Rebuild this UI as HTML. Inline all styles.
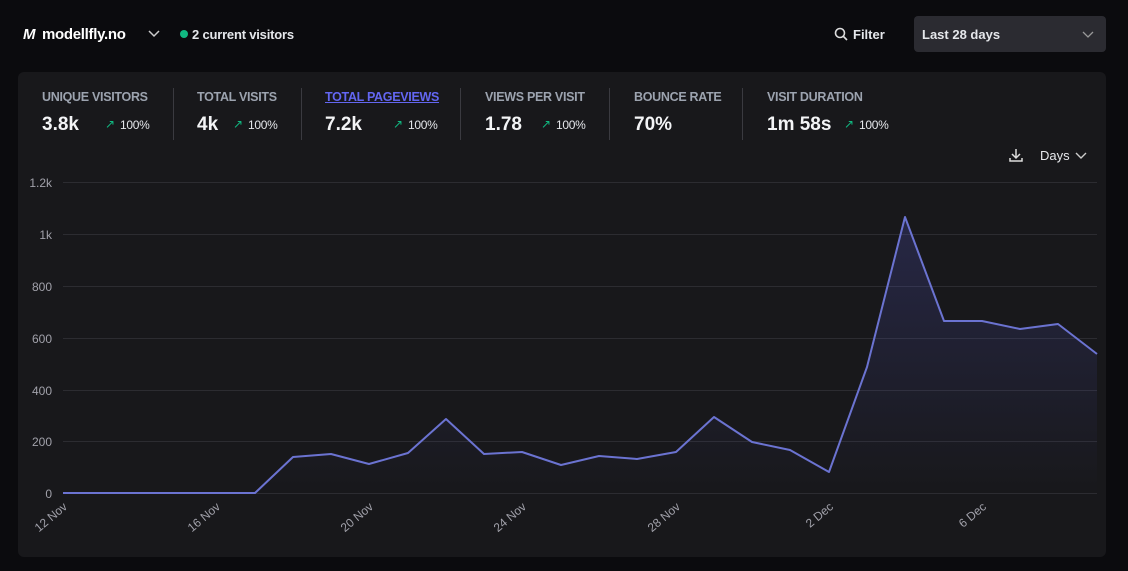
<!DOCTYPE html>
<html><head><meta charset="utf-8"><style>
body{margin:0;width:1128px;height:571px;background:#0b0b0e;font-family:"Liberation Sans",sans-serif;overflow:hidden;position:relative;color:#fff}
.a{position:absolute;white-space:nowrap}
.lab{font-size:12.5px;font-weight:bold;color:#9ca3af;letter-spacing:-0.3px}
.val{font-size:19px;font-weight:bold;color:#f3f4f6}
.pct{font-size:12px;color:#e5e7eb;letter-spacing:-0.3px}
.up{color:#10b981;font-size:12px}
.sep{position:absolute;top:88px;width:1px;height:52px;background:#3a3a40}
</style></head><body>
<div class="a" style="left:23px;top:26px;font-size:15px;font-weight:bold;font-style:italic">M</div>
<div class="a" style="left:42px;top:26px;font-size:15px;font-weight:bold;letter-spacing:-0.3px">modellfly.no</div>
<svg class="a" style="left:148px;top:30px" width="12" height="8"><path d="M1 1l5 5 5-5" stroke="#ccc" stroke-width="1.5" fill="none"/></svg>
<div class="a" style="left:180px;top:30px;width:8px;height:8px;border-radius:50%;background:#10b981"></div>
<div class="a" style="left:192px;top:27px;font-size:13px;font-weight:bold;color:#e5e7eb;letter-spacing:-0.2px">2 current visitors</div>
<svg class="a" style="left:834px;top:27px" width="14" height="14"><circle cx="6" cy="6" r="4.5" stroke="#ddd" stroke-width="1.6" fill="none"/><line x1="9.5" y1="9.5" x2="13" y2="13" stroke="#ddd" stroke-width="1.6"/></svg>
<div class="a" style="left:853px;top:27px;font-size:13px;font-weight:bold;color:#e5e7eb">Filter</div>
<div class="a" style="left:914px;top:16px;width:192px;height:36px;background:#2b2b31;border-radius:4px"></div>
<div class="a" style="left:922px;top:27px;font-size:13px;font-weight:bold;color:#e5e7eb">Last 28 days</div>
<svg class="a" style="left:1082px;top:31px" width="12" height="8"><path d="M1 1l5 5 5-5" stroke="#999" stroke-width="1.3" fill="none"/></svg>
<div class="a" style="left:18px;top:72px;width:1088px;height:485px;background:#18181b;border-radius:6px"></div>
<div class="a lab" style="left:42px;top:90px">UNIQUE VISITORS</div>
<div class="a val" style="left:42px;top:114px">3.8k</div>
<div class="a up" style="left:105px;top:117px">&#8599;</div><div class="a pct" style="left:120px;top:118px">100%</div>
<div class="sep" style="left:173px"></div>
<div class="a lab" style="left:197px;top:90px">TOTAL VISITS</div>
<div class="a val" style="left:197px;top:114px">4k</div>
<div class="a up" style="left:233px;top:117px">&#8599;</div><div class="a pct" style="left:248px;top:118px">100%</div>
<div class="sep" style="left:301px"></div>
<div class="a lab" style="left:325px;top:90px;color:#6366f1;text-decoration:underline">TOTAL PAGEVIEWS</div>
<div class="a val" style="left:325px;top:114px">7.2k</div>
<div class="a up" style="left:393px;top:117px">&#8599;</div><div class="a pct" style="left:408px;top:118px">100%</div>
<div class="sep" style="left:460px"></div>
<div class="a lab" style="left:485px;top:90px">VIEWS PER VISIT</div>
<div class="a val" style="left:485px;top:114px">1.78</div>
<div class="a up" style="left:541px;top:117px">&#8599;</div><div class="a pct" style="left:556px;top:118px">100%</div>
<div class="sep" style="left:609px"></div>
<div class="a lab" style="left:634px;top:90px">BOUNCE RATE</div>
<div class="a val" style="left:634px;top:114px">70%</div>
<div class="sep" style="left:742px"></div>
<div class="a lab" style="left:767px;top:90px">VISIT DURATION</div>
<div class="a val" style="left:767px;top:114px">1m 58s</div>
<div class="a up" style="left:844px;top:117px">&#8599;</div><div class="a pct" style="left:859px;top:118px">100%</div>
<svg class="a" style="left:1008px;top:147px" width="16" height="16"><path d="M8 2v9M4 7l4 4 4-4M2 11v3h12v-3" stroke="#ddd" stroke-width="1.5" fill="none"/></svg>
<div class="a" style="left:1040px;top:148px;font-size:13px;color:#e5e7eb">Days</div>
<svg class="a" style="left:1075px;top:152px" width="12" height="8"><path d="M1 1l5 5 5-5" stroke="#ccc" stroke-width="1.4" fill="none"/></svg>
<svg class="a" style="left:0;top:0" width="1128" height="571">
<defs><linearGradient id="g" x1="0" y1="0" x2="0" y2="1"><stop offset="0" stop-color="#6366f1" stop-opacity="0.2"/><stop offset="1" stop-color="#6366f1" stop-opacity="0"/></linearGradient></defs>
<g stroke="#2c2c31" stroke-width="1">
<line x1="63" y1="182.5" x2="1097" y2="182.5"/><line x1="63" y1="234.5" x2="1097" y2="234.5"/><line x1="63" y1="286.5" x2="1097" y2="286.5"/><line x1="63" y1="338.5" x2="1097" y2="338.5"/><line x1="63" y1="390.5" x2="1097" y2="390.5"/><line x1="63" y1="441.5" x2="1097" y2="441.5"/><line x1="63" y1="493.5" x2="1097" y2="493.5"/></g>
<g fill="#a1a1aa" font-size="12" text-anchor="end" font-family="Liberation Sans,sans-serif">
<text x="52" y="187">1.2k</text><text x="52" y="239">1k</text><text x="52" y="291">800</text><text x="52" y="343">600</text><text x="52" y="395">400</text><text x="52" y="446">200</text><text x="52" y="498">0</text></g>
<path d="M63,493 L255,493 L293,457 L331,454 L369,464 L408,453 L446,419 L484,454 L522,452 L561,465 L599,456 L637,459 L676,452 L714,417 L752,442 L790,450 L829,472 L867,367 L905,217 L944,321 L982,321 L1020,329 L1058,324 L1097,354 L1097,493 Z" fill="url(#g)"/>
<polyline points="63,493 255,493 293,457 331,454 369,464 408,453 446,419 484,454 522,452 561,465 599,456 637,459 676,452 714,417 752,442 790,450 829,472 867,367 905,217 944,321 982,321 1020,329 1058,324 1097,354" fill="none" stroke="#6b73d1" stroke-width="2" stroke-linejoin="round"/>
<g fill="#a1a1aa" font-size="12" text-anchor="end" font-family="Liberation Sans,sans-serif">
<text transform="translate(68,508) rotate(-40)">12 Nov</text>
<text transform="translate(221,508) rotate(-40)">16 Nov</text>
<text transform="translate(374,508) rotate(-40)">20 Nov</text>
<text transform="translate(527,508) rotate(-40)">24 Nov</text>
<text transform="translate(681,508) rotate(-40)">28 Nov</text>
<text transform="translate(834,508) rotate(-40)">2 Dec</text>
<text transform="translate(987,508) rotate(-40)">6 Dec</text></g>
</svg>
</body></html>
